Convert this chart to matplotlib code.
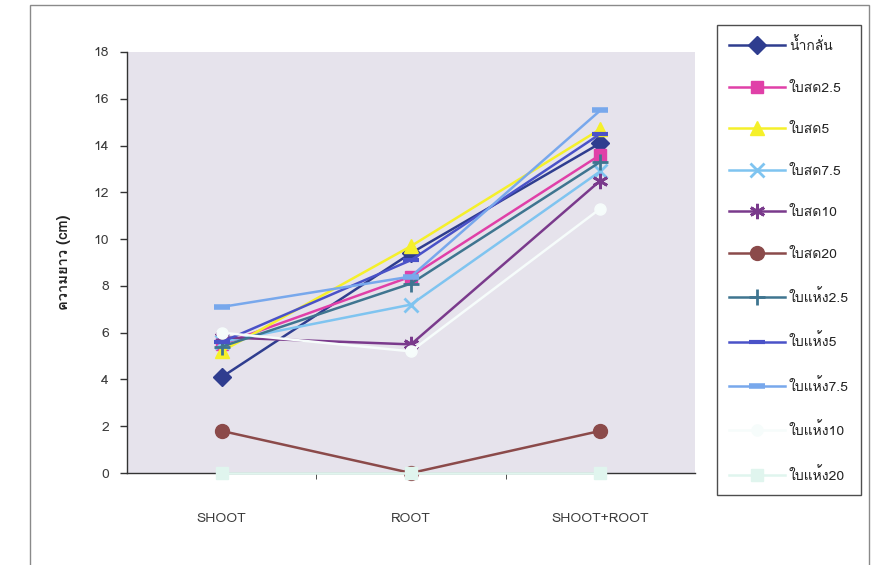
import matplotlib
matplotlib.use("Agg")
import matplotlib.pyplot as plt
from matplotlib import font_manager
from matplotlib.ft2font import FT2Font
from matplotlib.patches import Rectangle

# ---- data -------------------------------------------------------------
categories = ["SHOOT", "ROOT", "SHOOT+ROOT"]

series_names = ["น้ำกลั่น", "ใบสด2.5", "ใบสด5", "ใบสด7.5", "ใบสด10", "ใบสด20",
                "ใบแห้ง2.5", "ใบแห้ง5", "ใบแห้ง7.5", "ใบแห้ง10", "ใบแห้ง20"]

distilled = [4.1, 9.4, 14.1]
fresh_2_5 = [5.5, 8.4, 13.6]
fresh_5 = [5.2, 9.7, 14.7]
fresh_7_5 = [5.6, 7.2, 12.9]
fresh_10 = [5.8, 5.5, 12.5]
fresh_20 = [1.8, 0.0, 1.8]
dry_2_5 = [5.4, 8.1, 13.3]
dry_5 = [5.6, 9.1, 14.5]
dry_7_5 = [7.1, 8.4, 15.5]
dry_10 = [6.0, 5.2, 11.3]
dry_20 = [0.0, 0.0, 0.0]

yticks = [0, 2, 4, 6, 8, 10, 12, 14, 16, 18]

series_values = [distilled, fresh_2_5, fresh_5, fresh_7_5, fresh_10, fresh_20,
                 dry_2_5, dry_5, dry_7_5, dry_10, dry_20]


# ---- font with Thai coverage ---------------------------------------------
def thai_font():
    for entry in font_manager.fontManager.ttflist:
        try:
            ft = FT2Font(entry.fname)
            if ft.get_char_index(0x0E19) and ft.get_char_index(0x0E01):
                return entry.name
        except Exception:
            continue
    return None


tf = thai_font()
families = [tf, "DejaVu Sans"] if tf else ["DejaVu Sans"]
plt.rcParams["font.family"] = families

# ---- styles ----------------------------------------------------------------
styles = [
    dict(color="#2F3D8F", marker="D", ms=9),
    dict(color="#E040A8", marker="s", ms=9),
    dict(color="#F5F02A", marker="^", ms=10),
    dict(color="#7FC4F0", marker="x", ms=10, mew=2),
    dict(color="#7A3A8C", marker=(6, 2, 0), ms=11, mew=2),
    dict(color="#8B4A4A", marker="o", ms=10),
    dict(color="#3F7590", marker="+", ms=11, mew=2),
    dict(color="#4A52C8", marker="_", ms=11, mew=3),
    dict(color="#78A8EC", marker="_", ms=12, mew=4),
    dict(color="#F6FCFB", marker="o", ms=8),
    dict(color="#E0F5EE", marker="s", ms=9),
]

fig = plt.figure(figsize=(8.73, 5.65), dpi=100)
fig.patch.set_facecolor("white")

# outer chart frame
fig.add_artist(Rectangle((0.034, -0.05), 0.961, 1.042, transform=fig.transFigure,
                         fill=False, edgecolor="#8A8A8A", linewidth=1.0))

ax = fig.add_axes([0.1455, 0.1628, 0.6505, 0.7452])
ax.set_facecolor("#E6E3EC")

x = list(range(len(categories)))
for name, vals, st in zip(series_names, series_values, styles):
    z = 6 if name == "ใบแห้ง20" else 3
    ax.plot(x, vals, color=st["color"], linewidth=1.8, marker=st["marker"],
            markersize=st["ms"], markeredgewidth=st.get("mew", 1.0),
            markerfacecolor=st["color"], markeredgecolor=st["color"],
            label=name, clip_on=False, zorder=z)

ax.set_xlim(-0.5, 2.5)
ax.set_ylim(0, 18)
ax.set_yticks(yticks)
ax.set_xticks(x)
ax.set_xticklabels(categories)
ax.set_xticks([0.5, 1.5], minor=True)
ax.tick_params(axis="x", which="major", length=0, pad=29, labelsize=10,
               labelcolor="#3A3A3A")
ax.tick_params(axis="x", which="minor", length=4, color="#333333")
ax.tick_params(axis="y", length=5, width=1, color="#333333", labelsize=10,
               labelcolor="#3A3A3A", pad=8)

for side in ("top", "right"):
    ax.spines[side].set_visible(False)
for side in ("left", "bottom"):
    ax.spines[side].set_color("#333333")
    ax.spines[side].set_linewidth(1.0)

ax.set_ylabel("ความยาว (cm)", fontsize=10.5, fontweight="bold",
              color="#222222", labelpad=16)

leg = fig.legend(loc="upper left", bbox_to_anchor=(0.821, 0.956),
                 bbox_transform=fig.transFigure, frameon=True, fancybox=False,
                 fontsize=10, handlelength=4.0, handletextpad=0.3,
                 labelspacing=2.05, borderpad=0.9, borderaxespad=0)
leg.get_frame().set_edgecolor("#222222")
leg.get_frame().set_linewidth(1.0)
for t in leg.get_texts():
    t.set_color("#222222")

fig.savefig("out.png", dpi=100)
